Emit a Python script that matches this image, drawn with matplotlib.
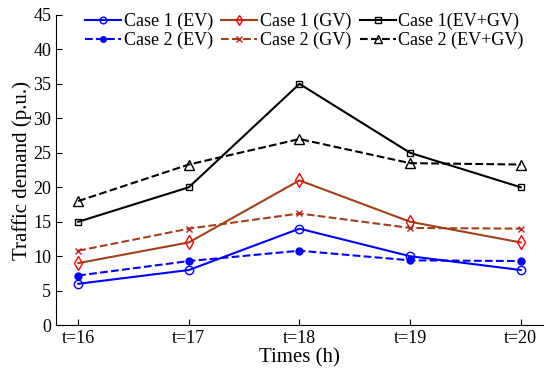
import matplotlib.pyplot as plt

plt.rcParams['font.family'] = ['Liberation Serif', 'DejaVu Serif']

times = [16, 17, 18, 19, 20]
tick_labels = ['t=16', 't=17', 't=18', 't=19', 't=20']

case1_ev = [6, 8, 14, 10, 8]
case1_gv = [9, 12, 21, 15, 12]
case1_all = [15, 20, 35, 25, 20]
case2_ev = [7.2, 9.3, 10.8, 9.4, 9.3]
case2_gv = [10.8, 14, 16.2, 14.1, 14]
case2_all = [18, 23.3, 27, 23.5, 23.3]

fig = plt.figure(figsize=(5.5, 3.83), dpi=100)
ax = fig.add_axes([0.102, 0.151, 0.885, 0.81])

l1, = ax.plot(times, case1_ev, color='blue', marker='o', mfc='none', ms=6, lw=1.5, label='Case 1 (EV)')
l2, = ax.plot(times, case1_gv, color='#A0401A', marker='d', mfc='none', mec='red', ms=7, lw=1.5, label='Case 1 (GV)')
l3, = ax.plot(times, case1_all, color='black', marker='s', mfc='none', ms=5, lw=1.5, label='Case 1(EV+GV)')
l4, = ax.plot(times, case2_ev, color='blue', ls='--', marker='o', ms=5, lw=1.5, label='Case 2 (EV)')
l5, = ax.plot(times, case2_gv, color='#A0401A', ls='--', marker='x', mec='#C02020', ms=5, lw=1.5, label='Case 2 (GV)')
l6, = ax.plot(times, case2_all, color='black', ls='--', marker='^', mfc='none', ms=7, lw=1.5, label='Case 2 (EV+GV)')

ax.set_xlim(15.8, 20.2)
ax.set_ylim(0, 45)
ax.set_yticks(range(0, 46, 5))
ax.set_xticks(times)
ax.set_xticklabels(tick_labels)
ax.tick_params(direction='in', labelsize=13, length=4)
ax.spines['top'].set_visible(False)
ax.spines['right'].set_visible(False)
ax.set_xlabel('Times (h)', fontsize=15, labelpad=1)
ax.set_ylabel('Traffic demand (p.u.)', fontsize=15, labelpad=1)

# column-wise fill: put case 1 on the first row
handles = [l1, l4, l2, l5, l3, l6]
ax.legend(handles=handles, labels=[h.get_label() for h in handles],
          loc='upper center', bbox_to_anchor=(0.51, 1.06), ncol=3, frameon=False,
          fontsize=13, handlelength=2.0, columnspacing=0.45, handletextpad=0.15,
          labelspacing=0.1, markerscale=0.8)

fig.savefig('out.png', dpi=100)
